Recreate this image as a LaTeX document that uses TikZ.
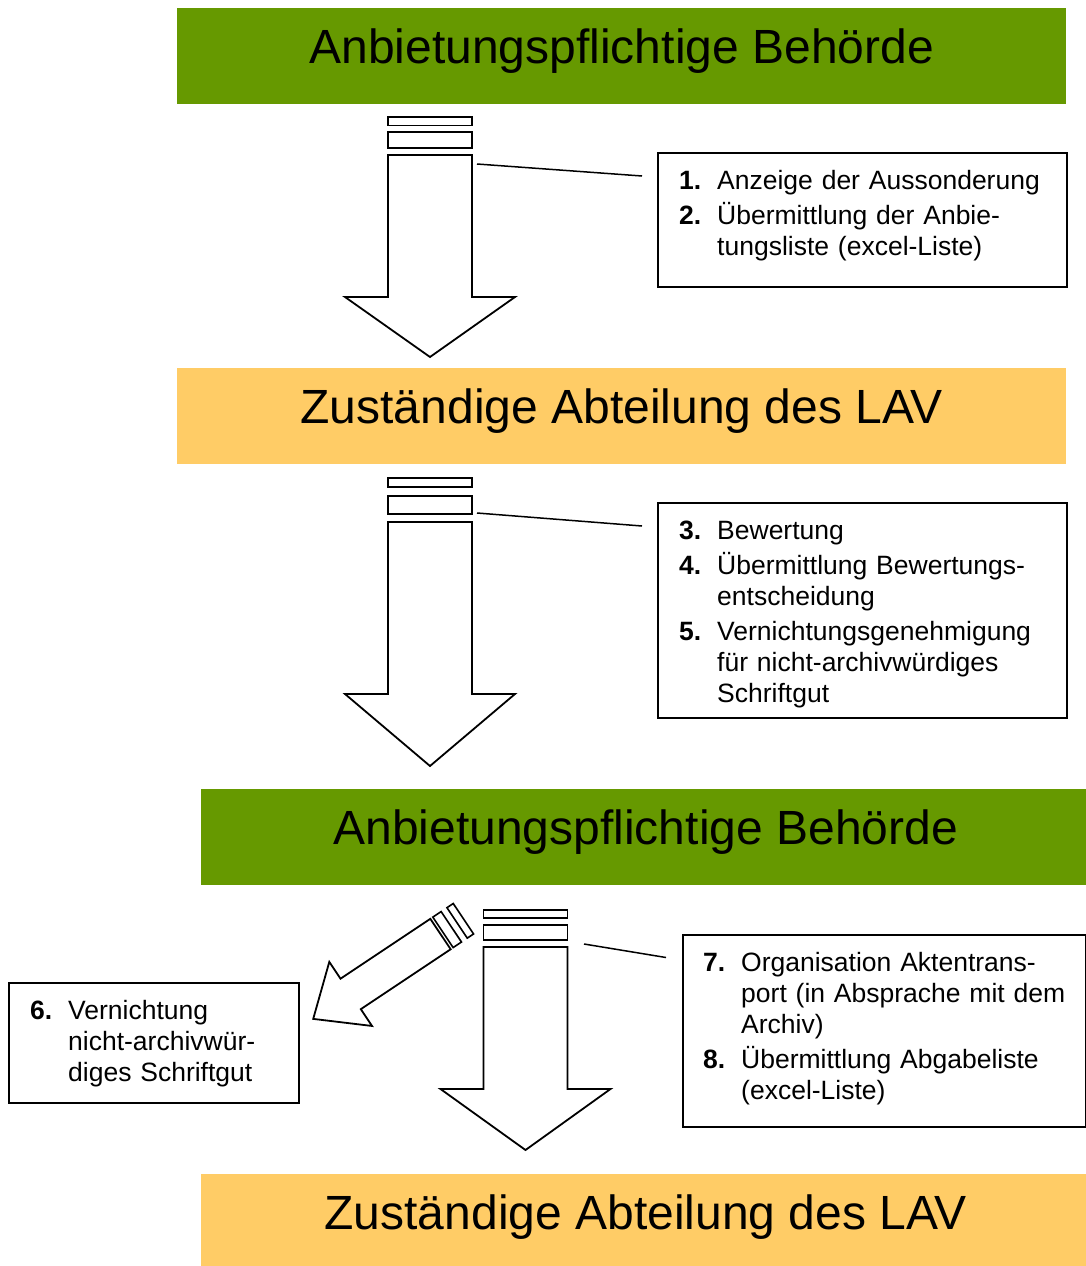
\documentclass[tikz,border=0pt]{standalone}
\usepackage{fontspec}
\setmainfont{Liberation Sans}
\usetikzlibrary{calc}
\definecolor{lavgreen}{HTML}{669900}
\definecolor{lavorange}{HTML}{FFCC66}
\newcommand{\itm}[2]{\par\noindent\hangindent=38pt\hangafter=1\makebox[38pt][l]{\bfseries #1}#2}
\newcommand{\varrow}[8]{%
  \draw[arr] (#1-42,#2) rectangle (#1+42,#3);
  \draw[arr] (#1-42,#4) rectangle (#1+42,#5);
  \draw[arr] (#1-42,#6) -- (#1+42,#6) -- (#1+42,#7) -- (#1+85,#7) -- (#1,#8) -- (#1-85,#7) -- (#1-42,#7) -- cycle;
}
\begin{document}
\begin{tikzpicture}[x=1pt,y=-1pt,
  banner/.style={rectangle, inner sep=0pt, minimum width=889pt, minimum height=96pt,
    anchor=north west, text height=35pt, text depth=21pt, font=\fontsize{48}{58}\selectfont},
  box/.style={draw, line width=1.6pt, rectangle, anchor=north west, inner sep=0pt},
  txt/.style={anchor=north west, inner sep=0pt, text width=420pt, align=left,
    font=\fontsize{26.5}{31}\selectfont},
  arr/.style={draw, line width=1.8pt, fill=white, line join=miter},
  conn/.style={draw, line width=1.5pt}]
\useasboundingbox (0,0) rectangle (1086,1266);

% banners
\node[banner, fill=lavgreen] (h1) at (177,8) {Anbietungspflichtige Behörde};
\node[banner, fill=lavorange] (h2) at (177,368) {Zuständige Abteilung des LAV};
\node[banner, fill=lavgreen] (h3) at (201,789) {Anbietungspflichtige Behörde};
\node[banner, fill=lavorange] (h4) at (201,1174) {Zuständige Abteilung des LAV};

% vertical arrows
\varrow{430}{117}{125.5}{132}{148}{155}{297}{357}
\varrow{430}{478}{487}{496}{514}{522}{694}{766}
\varrow{525.5}{910}{918}{925}{940}{947}{1089}{1150}

% diagonal arrow
\begin{scope}[shift={(440.5,934)}, rotate=213.7]
  \draw[arr] (0,-18.3) -- (108,-18.3) -- (108,-38.5) -- (153,0) -- (108,38.5) -- (108,18.3) -- (0,18.3) -- cycle;
  \draw[arr, line width=1.6pt] (-13,-18.3) rectangle (-3,18.3);
  \draw[arr, line width=1.6pt] (-27.5,-18.3) rectangle (-20,18.3);
\end{scope}

% boxes
\node[box, minimum width=409pt, minimum height=134pt] (b1) at (657,152) {};
\node[box, minimum width=409pt, minimum height=215pt] (b2) at (657,502) {};
\node[box, minimum width=403pt, minimum height=192pt] (b3) at (682,934) {};
\node[box, minimum width=290pt, minimum height=120pt] (b6) at (8,982) {};

\node[txt] (t1) at ($(b1.north west)+(22,2)$) {\setlength{\parskip}{4pt}%
  \itm{1.}{\rule{0pt}{26pt}Anzeige der Aussonderung}%
  \itm{2.}{Übermittlung der Anbie-\newline tungsliste (excel-Liste)}\par};
\node[txt] (t2) at ($(b2.north west)+(22,2)$) {\setlength{\parskip}{4pt}%
  \itm{3.}{\rule{0pt}{26pt}Bewertung}%
  \itm{4.}{Übermittlung Bewertungs-\newline entscheidung}%
  \itm{5.}{Vernichtungsgenehmigung\newline für nicht-archivwürdiges\newline Schriftgut}\par};
\node[txt] (t3) at ($(b3.north west)+(21,2)$) {\setlength{\parskip}{4pt}%
  \itm{7.}{\rule{0pt}{26pt}Organisation Aktentrans-\newline port (in Absprache mit dem\newline Archiv)}%
  \itm{8.}{Übermittlung Abgabeliste\newline (excel-Liste)}\par};
\node[txt] (t6) at ($(b6.north west)+(22,2)$) {\setlength{\parskip}{4pt}%
  \itm{6.}{\rule{0pt}{26pt}Vernichtung\newline nicht-archivwür-\newline diges Schriftgut}\par};

% connectors
\coordinate (c1s) at (477,164);
\coordinate (c1e) at ($(b1.north west)+(-15,24)$);
\coordinate (c2s) at (477,513);
\coordinate (c2e) at ($(b2.north west)+(-15,24)$);
\coordinate (c3s) at (584,944);
\coordinate (c3e) at ($(b3.north west)+(-16,23.5)$);
\draw[conn] (c1s) -- (c1e);
\draw[conn] (c2s) -- (c2e);
\draw[conn] (c3s) -- (c3e);
\end{tikzpicture}
\end{document}
